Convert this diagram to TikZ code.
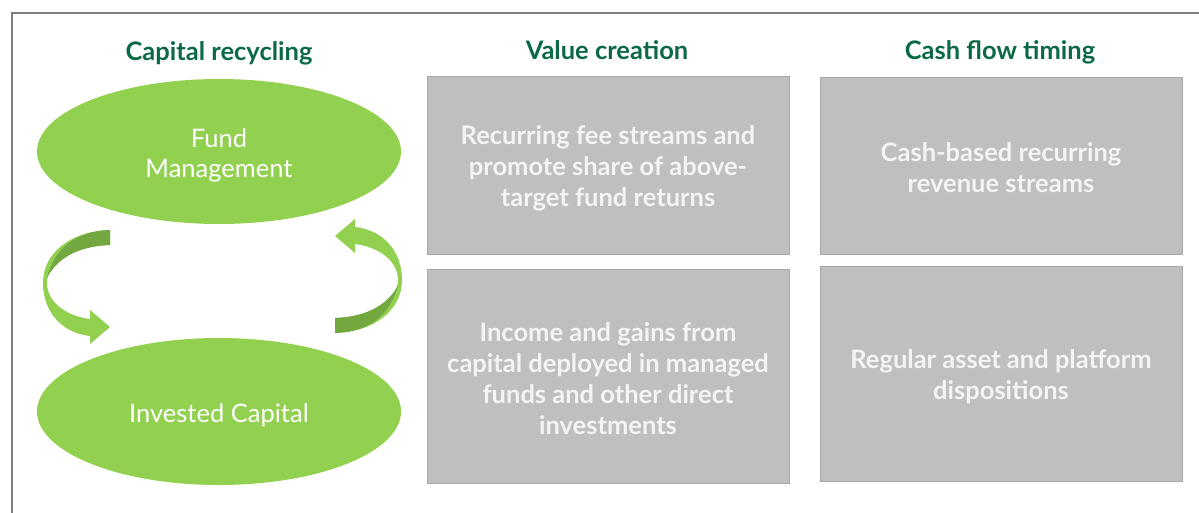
\documentclass[tikz,border=0pt]{standalone}
\usepackage{fontspec}
\setmainfont{Lato}
\usetikzlibrary{shapes.geometric}
\definecolor{leaf}{HTML}{92D050}
\definecolor{leafdark}{HTML}{72A83F}
\definecolor{hdrgreen}{HTML}{0B6A45}
\definecolor{boxfill}{HTML}{BFBFBF}
\definecolor{boxedge}{HTML}{A8A8A8}
\definecolor{boxtext}{HTML}{F4F4F4}
\definecolor{framegray}{HTML}{808080}
\tikzset{
  header/.style={font=\bfseries\fontsize{25.5}{30}\selectfont, text=hdrgreen, anchor=base, inner sep=0},
  panel/.style={rectangle, draw=boxedge, fill=boxfill, line width=1pt, minimum width=362pt, inner sep=0},
  paneltext/.style={text=boxtext, font=\bfseries\fontsize{25.5}{31}\selectfont, align=center, inner sep=0},
  stage/.style={ellipse, fill=leaf, minimum width=364pt, minimum height=145pt, inner sep=0},
  stagetext/.style={text=white, font=\fontsize{25.5}{30}\selectfont, align=center, inner sep=0},
  frameline/.style={draw=framegray, line width=2pt},
  loop ribbon/.pic={
    % front face of the curved arrow
    \fill[leaf] (110,230) .. controls (72,231) and (43,252) .. (43,283)
      .. controls (43,312) and (62,333) .. (90,336) -- (90,344) -- (110,327)
      -- (90,310) -- (90,319) .. controls (66,316) and (47,302) .. (47,283)
      .. controls (47,262) and (74,246) .. (110,245) -- cycle;
    % shaded back face near the tail
    \fill[leafdark] (110,230) .. controls (78,231) and (55,246) .. (47,278)
      .. controls (58,256) and (82,246) .. (110,245) -- cycle;
  }
}
\begin{document}
\begin{tikzpicture}[x=1pt,y=-1pt]
\useasboundingbox (0,0) rectangle (1199,513);

% outer frame
\draw[frameline] (12,513) -- (12,13) -- (1199,13);

% column headers
\node[header] (h1) at (219,61) {Capital recycling};
\node[header] (h2) at (607,60) {Value creation};
\node[header] (h3) at (1000,60) {Cash flow timing};

% capital recycling loop
\node[stage] (fund) at (219,151.5) {};
\node[stagetext] (fundtext) at (219,155.5) {Fund\\Management};
\node[stage, minimum height=147pt] (invest) at (219,411.5) {};
\node[stagetext] (investtext) at (219,415) {Invested Capital};
\pic at (0,0) {loop ribbon};
\pic[shift={(445,563)}, rotate=180] {loop ribbon};

% value creation
\node[panel, minimum height=177pt] (v1) at (608,165.5) {};
\node[paneltext] (v1text) at (608,168.5)
  {Recurring fee streams and\\promote share of above-\\target fund returns};
\node[panel, minimum height=214pt] (v2) at (608,376) {};
\node[paneltext] (v2text) at (608,378.5)
  {Income and gains from\\capital deployed in managed\\funds and other direct\\investments};

% cash flow timing
\node[panel, minimum height=177pt] (c1) at (1001,166) {};
\node[paneltext] (c1text) at (1001,168)
  {Cash-based recurring\\revenue streams};
\node[panel, minimum height=215pt] (c2) at (1001,373.5) {};
\node[paneltext] (c2text) at (1001,376.5)
  {Regular asset and platform\\dispositions};
\end{tikzpicture}
\end{document}
